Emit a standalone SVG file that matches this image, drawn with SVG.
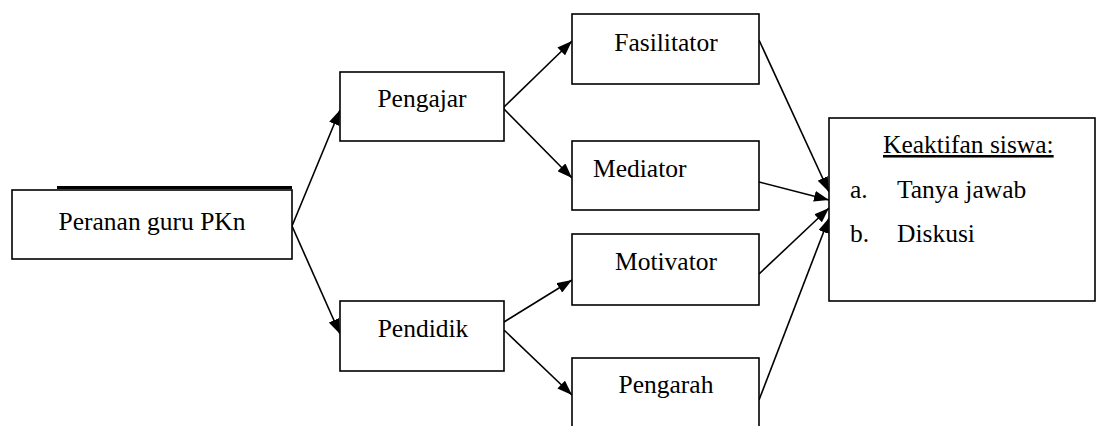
<svg xmlns="http://www.w3.org/2000/svg" width="1097" height="426" viewBox="0 0 1097 426">
  <defs>
    <style>
      .box { fill: #ffffff; stroke: #000000; stroke-width: 1.6; }
      .lbl { font-family: "Liberation Serif", "Times New Roman", serif; font-size: 25.5px; fill: #000000; }
      .mid { text-anchor: middle; }
      .edge { stroke: #000000; stroke-width: 1.6; fill: none; marker-end: url(#head); }
    </style>
    <marker id="head" viewBox="0 0 15 11" refX="15" refY="5.5" markerWidth="15" markerHeight="11" markerUnits="userSpaceOnUse" orient="auto">
      <path d="M0,0 L15,5.5 L0,11 Z" fill="#000000"/>
    </marker>
  </defs>

  <rect width="1097" height="426" fill="#ffffff"/>

  <!-- connectors -->
  <g id="connectors">
    <line class="edge" x1="292" y1="226" x2="340" y2="110"/>
    <line class="edge" x1="292" y1="226" x2="340" y2="334"/>
    <line class="edge" x1="503" y1="108" x2="572" y2="41"/>
    <line class="edge" x1="503" y1="108" x2="572" y2="178"/>
    <line class="edge" x1="504" y1="322" x2="572" y2="280"/>
    <line class="edge" x1="504" y1="330" x2="572" y2="395"/>
    <line class="edge" x1="759" y1="40" x2="829" y2="192"/>
    <line class="edge" x1="759" y1="182" x2="829" y2="200"/>
    <line class="edge" x1="759" y1="274" x2="829" y2="208"/>
    <line class="edge" x1="759" y1="400" x2="829" y2="218"/>
  </g>

  <!-- root node -->
  <g id="peranan">
    <rect class="box" x="12" y="190" width="280" height="69"/>
    <rect x="57" y="186" width="235" height="3" fill="#000000"/>
    <text class="lbl mid" x="152" y="230">Peranan guru PKn</text>
  </g>

  <g id="pengajar">
    <rect class="box" x="340" y="72" width="164" height="69"/>
    <text class="lbl mid" x="422" y="107">Pengajar</text>
  </g>

  <g id="pendidik">
    <rect class="box" x="340" y="301" width="164" height="70"/>
    <text class="lbl mid" x="423" y="337">Pendidik</text>
  </g>

  <g id="fasilitator">
    <rect class="box" x="572" y="14" width="187" height="70"/>
    <text class="lbl mid" x="666" y="51">Fasilitator</text>
  </g>

  <g id="mediator">
    <rect class="box" x="572" y="141" width="187" height="69"/>
    <text class="lbl" x="593" y="177">Mediator</text>
  </g>

  <g id="motivator">
    <rect class="box" x="572" y="234" width="187" height="71"/>
    <text class="lbl mid" x="666" y="270">Motivator</text>
  </g>

  <g id="pengarah">
    <rect class="box" x="572" y="358" width="187" height="80"/>
    <text class="lbl mid" x="666" y="393">Pengarah</text>
  </g>

  <g id="keaktifan">
    <rect class="box" x="829" y="118" width="266" height="183"/>
    <text class="lbl" x="883" y="153" text-decoration="underline">Keaktifan siswa:</text>
    <text class="lbl" x="850" y="198">a.</text>
    <text class="lbl" x="897" y="198">Tanya jawab</text>
    <text class="lbl" x="850" y="242">b.</text>
    <text class="lbl" x="897" y="242">Diskusi</text>
  </g>
</svg>
